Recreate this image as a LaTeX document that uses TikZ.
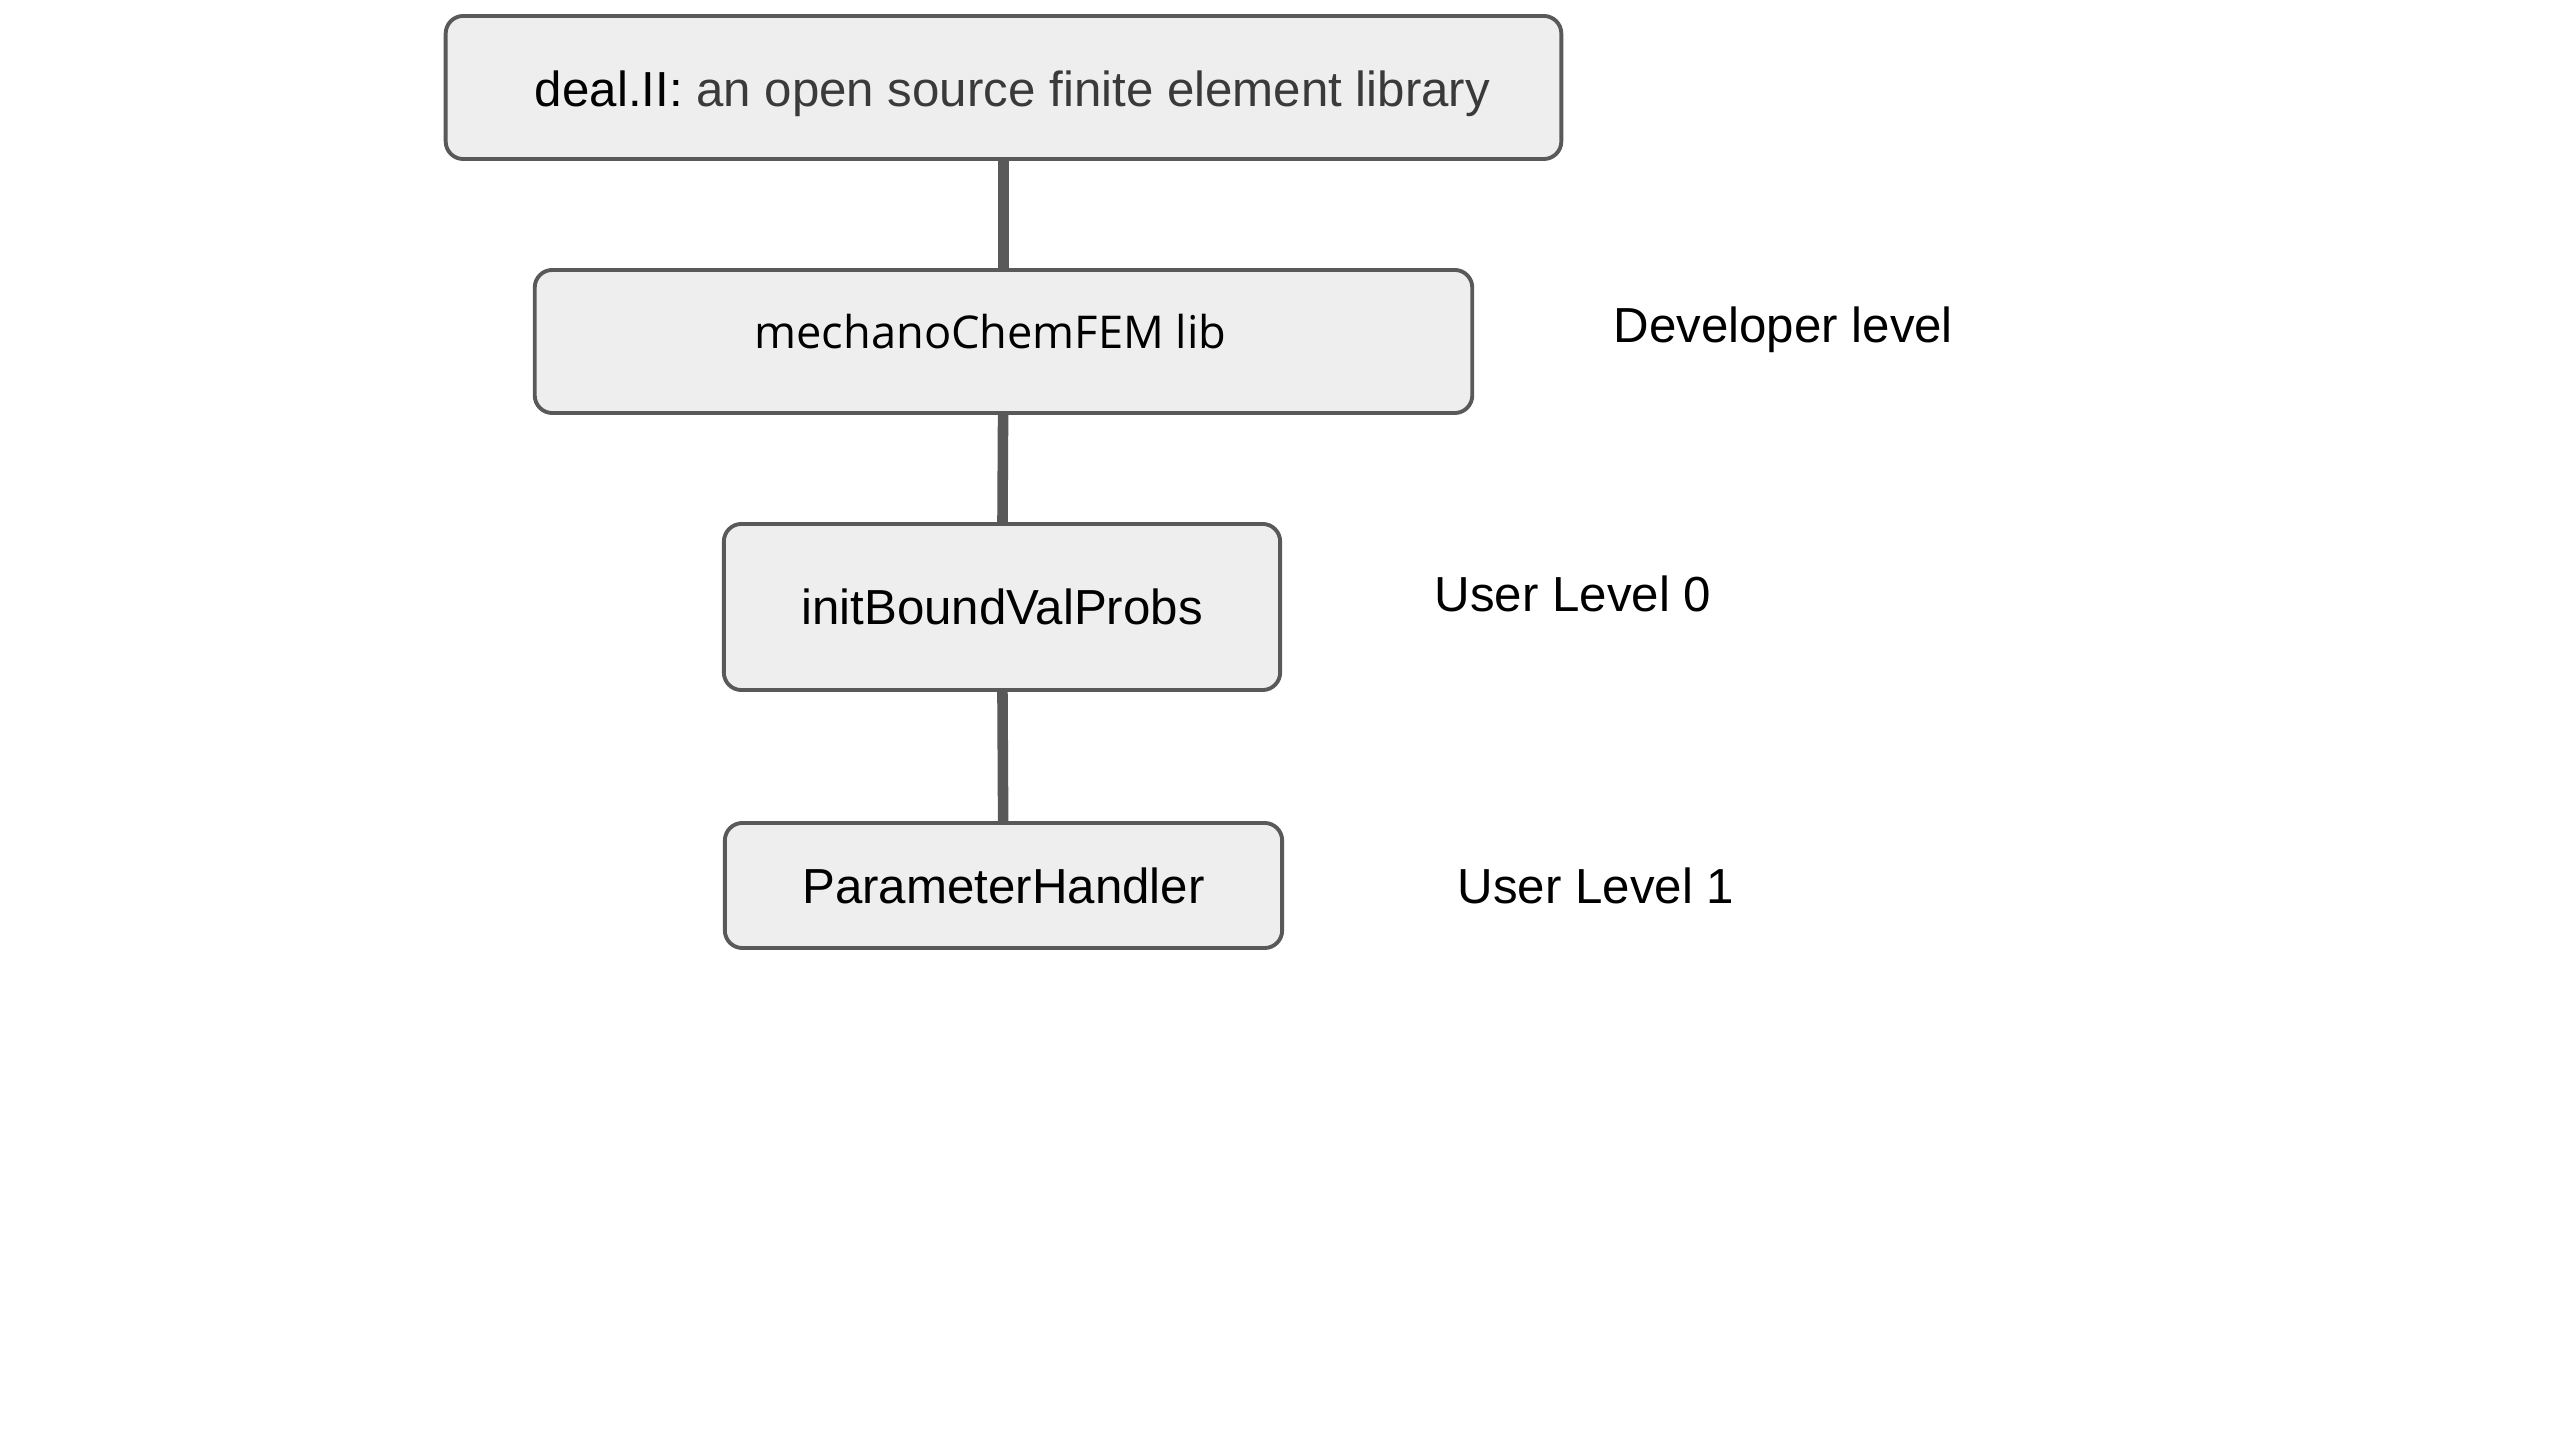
\documentclass[tikz,border=0pt]{standalone}
\usepackage{fontspec}
\setmainfont{Liberation Sans}
\newfontfamily\libfont{Open Sans}
\usetikzlibrary{positioning}
\definecolor{boxgray}{HTML}{EEEEEE}
\definecolor{linegray}{HTML}{595959}
\definecolor{textgray}{HTML}{3A3A3A}
\tikzset{
	levelbox/.style={draw=linegray, line width=1.1pt, fill=boxgray, rounded corners=5pt, inner sep=0pt, font=\fontsize{14}{16}\selectfont},
	levellabel/.style={anchor=west, inner sep=0pt, font=\fontsize{14}{16}\selectfont},
	link/.style={draw=linegray, line width=3pt}
}
\begin{document}
\begin{tikzpicture}[x=0.01cm, y=-0.01cm]
	\useasboundingbox (0,0) rectangle (2550,1434);
	\node[levelbox, minimum width=11.15cm, minimum height=1.43cm] (dealii) at (1003.5,87.5) {\hspace*{0.18cm}\smash{\raisebox{-0.19cm}{\fontsize{14}{16}\selectfont deal.II: \textcolor{textgray}{an open source finite element library}}}};
	\node[levelbox, minimum width=9.37cm, minimum height=1.43cm] (mcfem) at (1003.5,341.5) {\smash{\raisebox{-0.075cm}{\libfont\fontsize{12.85}{14}\selectfont mechanoChemFEM lib}}\hspace*{0.26cm}};
	\node[levelbox, minimum width=5.56cm, minimum height=1.66cm] (ibvp) at (1002,607) {initBoundValProbs};
	\node[levelbox, minimum width=5.57cm, minimum height=1.25cm] (prm) at (1003.5,885.5) {ParameterHandler};
	\draw[link] (dealii) -- (mcfem);
	\draw[link] (mcfem) -- (ibvp);
	\draw[link] (ibvp) -- (prm);
	% levels
	\node[levellabel] (devlevel) at (1613,330) {Developer level};
	\node[levellabel] (userzero) at (1434,594) {User Level 0};
	\node[levellabel] (userone) at (1457,886) {User Level 1};
\end{tikzpicture}
\end{document}
